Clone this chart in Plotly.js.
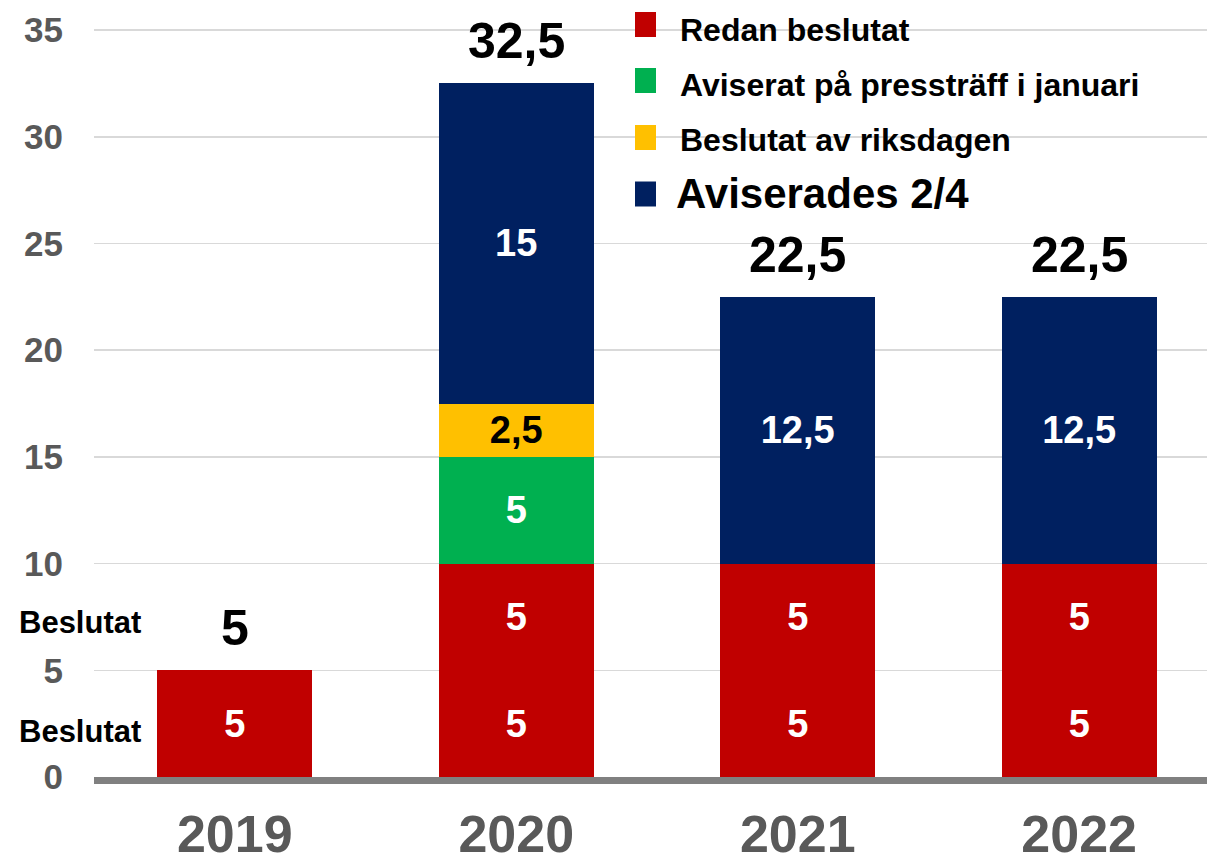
<!DOCTYPE html>
<html>
<head>
<meta charset="utf-8">
<script src="https://cdn.plot.ly/plotly-3.0.1.min.js"></script>
<style>html,body{margin:0;padding:0;background:#fff;}#chart{width:1207px;height:864px;}</style>
</head>
<body>
<div id="chart"></div>
<script>
// ---- data ----
const years = ['2019', '2020', '2021', '2022'];
const redanBeslutatLower = [5, 5, 5, 5];
const redanBeslutatUpper = [null, 5, 5, 5];
const aviseratPresstraff = [null, 5, null, null];
const beslutatRiksdagen = [null, 2.5, null, null];
const aviserades24 = [null, 15, 12.5, 12.5];
const seriesNames = ['Redan beslutat', 'Aviserat på pressträff i januari', 'Beslutat av riksdagen', 'Aviserades 2/4'];
const yTicks = [0, 5, 10, 15, 20, 25, 30, 35];
const sideNote = 'Beslutat';
const sideNoteLevels = [7.25, 2.15];

// ---- styling ----
const colors = ['#C00000', '#00B050', '#FFC000', '#002060'];
const FONT = 'Liberation Sans, Arial, sans-serif';
const fmt = v => (v === null ? '' : String(v).replace('.', ','));

function barTrace(vals, name, color, textColor) {
  return {
    type: 'bar', x: years, y: vals, name: name,
    marker: {color: color, line: {width: 0}},
    text: vals.map(fmt), texttemplate: '%{text}',
    textposition: 'inside', insidetextanchor: 'middle', textangle: 0,
    constraintext: 'none',
    insidetextfont: {family: FONT, size: 38, color: textColor, weight: 'bold'},
    hoverinfo: 'skip', showlegend: false, cliponaxis: false
  };
}

const traces = [
  barTrace(redanBeslutatLower, seriesNames[0], colors[0], '#ffffff'),
  barTrace(redanBeslutatUpper, seriesNames[0], colors[0], '#ffffff'),
  barTrace(aviseratPresstraff, seriesNames[1], colors[1], '#ffffff'),
  barTrace(beslutatRiksdagen, seriesNames[2], colors[2], '#000000'),
  barTrace(aviserades24, seriesNames[3], colors[3], '#ffffff')
];

const allSeries = [redanBeslutatLower, redanBeslutatUpper, aviseratPresstraff, beslutatRiksdagen, aviserades24];
const totals = years.map((_, i) => allSeries.reduce((s, arr) => s + (arr[i] || 0), 0));

const annotations = [];
years.forEach((yr, i) => {
  annotations.push({
    x: i, y: totals[i], xref: 'x', yref: 'y', text: fmt(totals[i]),
    showarrow: false, yanchor: 'bottom', yshift: 12,
    font: {family: FONT, size: 50, color: '#000000', weight: 'bold'}
  });
});
sideNoteLevels.forEach(lv => {
  annotations.push({
    x: -0.0692, xref: 'paper', xanchor: 'left', y: lv, yref: 'y', yanchor: 'middle',
    text: sideNote, showarrow: false,
    font: {family: FONT, size: 31, color: '#000000', weight: 'bold'}
  });
});

// manual legend (paper coords; plot area spans x 94..1207, y 0..777 px)
const W = 1113, H = 777, L = 94;
const px2x = px => (px - L) / W;
const py2y = py => (H - py) / H;
const legendRows = [24.5, 80.5, 137.5, 194];
const legendTextRows = [30, 85, 140, 193];
const legendSizes = [32, 32, 32, 42];
const shapes = [];
seriesNames.forEach((nm, k) => {
  const cy = legendRows[k];
  shapes.push({
    type: 'rect', xref: 'paper', yref: 'paper',
    x0: px2x(635), x1: px2x(656), y0: py2y(cy + 12.5), y1: py2y(cy - 12.5),
    fillcolor: colors[k], line: {width: 0}
  });
  annotations.push({
    xref: 'paper', yref: 'paper', x: px2x(k === 3 ? 674 : 678), y: py2y(legendTextRows[k]),
    xanchor: 'left', yanchor: 'middle', text: nm, showarrow: false,
    font: {family: FONT, size: legendSizes[k], color: '#000000', weight: 'bold'}
  });
});

const layout = {
  width: 1207, height: 864,
  margin: {l: 94, r: 0, t: 0, b: 87},
  paper_bgcolor: '#ffffff', plot_bgcolor: '#ffffff',
  barmode: 'stack', bargap: 0.45,
  showlegend: false,
  xaxis: {
    type: 'category', range: [-0.5, 3.454], fixedrange: true,
    showline: true, linecolor: '#808080', linewidth: 7,
    showgrid: false, zeroline: false, ticks: '',
    ticklabelstandoff: 6,
    tickfont: {family: FONT, size: 52, color: '#595959', weight: 'bold'}
  },
  yaxis: {
    range: [0, 36.41], tickvals: yTicks, ticktext: yTicks.map(String),
    showgrid: true, gridcolor: '#d9d9d9', gridwidth: 1.5,
    zeroline: false, showline: false, ticks: '',
    ticklabelstandoff: 30,
    tickfont: {family: FONT, size: 35, color: '#595959', weight: 'bold'}
  },
  annotations: annotations,
  shapes: shapes
};

Plotly.newPlot('chart', traces, layout, {displayModeBar: false, staticPlot: true});
</script>
</body>
</html>
